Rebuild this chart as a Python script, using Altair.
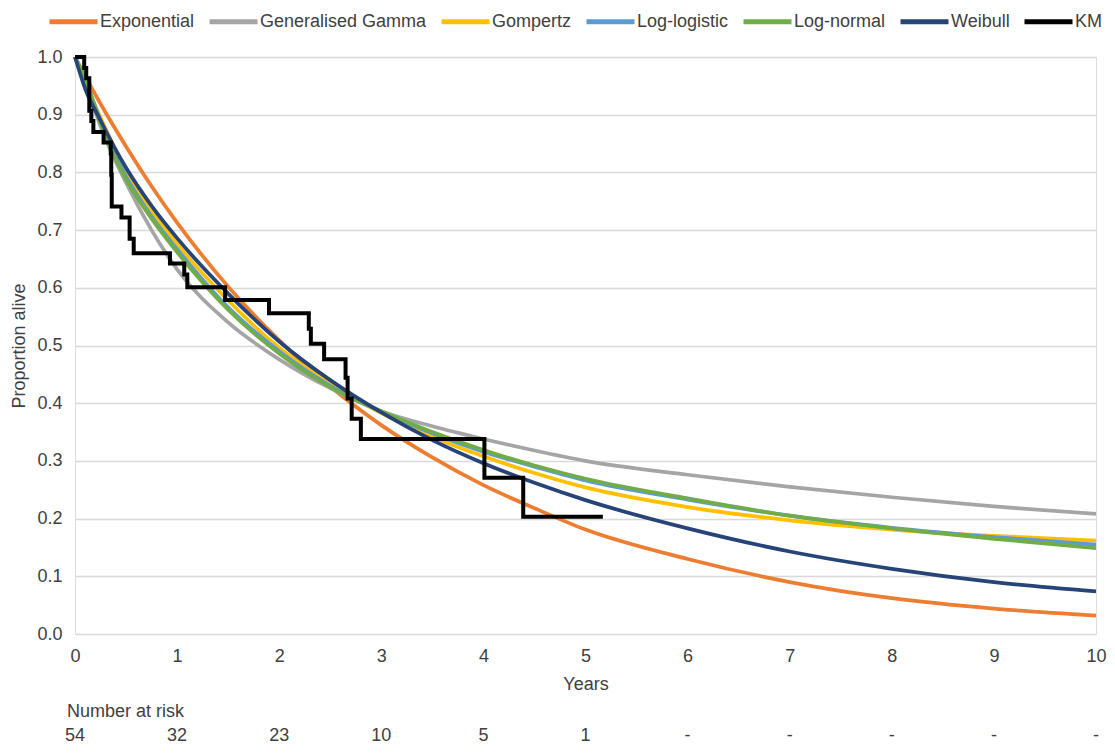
import altair as alt
import pandas as pd

# ---- data ----
models = ["Exponential", "Generalised Gamma", "Gompertz", "Log-logistic", "Log-normal", "Weibull"]
colors = ["#ED7D31", "#A5A5A5", "#FFC000", "#5B9BD5", "#70AD47", "#264478", "#000000"]

times = [0, 0.1, 0.25, 0.5, 0.75, 1, 1.5, 2, 2.5, 3, 3.5, 4, 4.5, 5, 6, 7, 8, 9, 10]
exponential = [1.0, 0.967, 0.919, 0.845, 0.776, 0.713, 0.602, 0.509, 0.429, 0.362, 0.306, 0.258, 0.218, 0.181, 0.130, 0.090, 0.062, 0.044, 0.032]
gen_gamma   = [1.0, 0.957, 0.880, 0.782, 0.700, 0.632, 0.540, 0.476, 0.426, 0.386, 0.360, 0.338, 0.318, 0.300, 0.276, 0.255, 0.237, 0.221, 0.208]
gompertz    = [1.0, 0.955, 0.895, 0.803, 0.733, 0.676, 0.578, 0.496, 0.433, 0.383, 0.342, 0.308, 0.279, 0.254, 0.220, 0.197, 0.181, 0.170, 0.162]
loglogistic = [1.0, 0.960, 0.890, 0.793, 0.724, 0.667, 0.566, 0.490, 0.430, 0.385, 0.348, 0.316, 0.290, 0.266, 0.233, 0.205, 0.184, 0.168, 0.155]
lognormal   = [1.0, 0.962, 0.885, 0.788, 0.720, 0.662, 0.562, 0.486, 0.428, 0.386, 0.350, 0.319, 0.292, 0.269, 0.235, 0.205, 0.183, 0.165, 0.149]
weibull     = [1.0, 0.945, 0.890, 0.808, 0.742, 0.686, 0.590, 0.507, 0.440, 0.384, 0.336, 0.296, 0.262, 0.232, 0.183, 0.143, 0.113, 0.090, 0.074]

km_t = [0.00, 0.09, 0.11, 0.14, 0.16, 0.18, 0.28, 0.35, 0.355, 0.36, 0.455, 0.535, 0.575, 0.93, 1.07, 1.10,
        1.47, 1.90, 2.29, 2.31, 2.44, 2.65, 2.67, 2.71, 2.80, 4.01, 4.39, 5.17]
km_s = [1.000, 0.981, 0.963, 0.907, 0.889, 0.870, 0.852, 0.833, 0.796, 0.741, 0.722, 0.685, 0.660, 0.642, 0.623, 0.601,
        0.579, 0.556, 0.529, 0.503, 0.476, 0.444, 0.408, 0.373, 0.338, 0.271, 0.203, 0.203]

risk_years = [0, 1, 2, 3, 4, 5, 6, 7, 8, 9, 10]
risk_counts = ["54", "32", "23", "10", "5", "1", "-", "-", "-", "-", "-"]

series = [exponential, gen_gamma, gompertz, loglogistic, lognormal, weibull]

rows = []
for m, vals in zip(models, series):
    for t, s in zip(times, vals):
        rows.append({"model": m, "t": t, "S": s})
df_curves = pd.DataFrame(rows)
df_km = pd.DataFrame({"model": "KM", "t": km_t, "S": km_s})
df_risk = pd.DataFrame({"t": risk_years, "n": risk_counts})
df_risk_title = pd.DataFrame({"label": ["Number at risk"]})

FONT = "Liberation Sans"
TXT = "#404040"

xscale = alt.Scale(domain=[0, 10], nice=False)
yscale = alt.Scale(domain=[0, 1], nice=False)
cscale = alt.Scale(domain=models + ["KM"], range=colors)

xaxis = alt.Axis(values=risk_years, format="d", title="Years", grid=False, domain=False, ticks=False,
                 labelFlush=False, labelPadding=13, labelFontSize=18, labelColor=TXT, labelFont=FONT,
                 titleFontSize=18, titleFontWeight="normal", titleColor=TXT, titleFont=FONT,
                 titlePadding=10)
yaxis = alt.Axis(values=[i / 10 for i in range(11)], format=".1f", title="Proportion alive",
                 grid=True, gridColor="#d9d9d9", gridWidth=1.5, domain=False, ticks=False,
                 labelFlush=False, labelPadding=13, labelFontSize=18, labelColor=TXT, labelFont=FONT,
                 titleFontSize=18, titleFontWeight="normal", titleColor=TXT, titleFont=FONT,
                 titlePadding=8)

legend = alt.Legend(orient="none", legendX=-28, legendY=-62, direction="horizontal", title=None,
                    symbolType="stroke", symbolStrokeWidth=5, symbolSize=2304,
                    labelFontSize=18, labelColor=TXT, labelFont=FONT, labelOffset=0,
                    labelLimit=400, columnPadding=4)

curves = alt.Chart(df_curves).mark_line(interpolate="monotone", strokeWidth=3.75).encode(
    x=alt.X("t:Q", scale=xscale, axis=xaxis),
    y=alt.Y("S:Q", scale=yscale, axis=yaxis),
    color=alt.Color("model:N", scale=cscale, legend=legend),
    detail="model:N",
)

km = alt.Chart(df_km).mark_line(interpolate="step-after", strokeWidth=4).encode(
    x=alt.X("t:Q", scale=xscale),
    y=alt.Y("S:Q", scale=yscale),
    color=alt.Color("model:N", scale=cscale, legend=legend),
)

risk = alt.Chart(df_risk).mark_text(fontSize=18, font=FONT, color=TXT, baseline="middle").encode(
    x=alt.X("t:Q", scale=xscale),
    y=alt.value(679),
    text="n:N",
)

risk_title = alt.Chart(df_risk_title).mark_text(fontSize=18, font=FONT, color=TXT, baseline="middle",
                                                align="left").encode(
    x=alt.value(-8),
    y=alt.value(655),
    text="label:N",
)

chart = alt.layer(curves, km, risk, risk_title).properties(
    width=1021, height=577,
    padding={"left": 67, "top": 49, "right": 11, "bottom": 113},
    autosize=alt.AutoSizeParams(type="none"),
).configure_view(stroke=None).configure(font=FONT)

chart.save("out.html", embed_options={"renderer": "svg", "actions": False})
